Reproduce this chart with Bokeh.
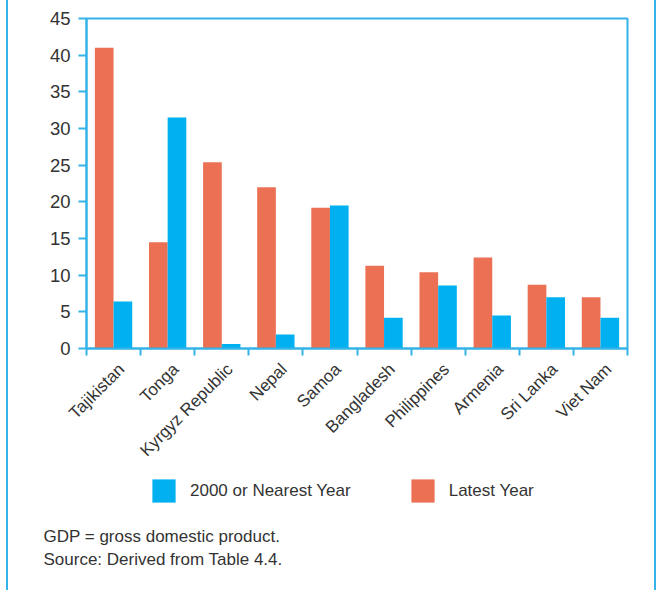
import math
from bokeh.plotting import figure
from bokeh.layouts import column
from bokeh.models import (Range1d, LinearAxis, FixedTicker, ColumnDataSource,
                          Legend, LegendItem, Title)
from bokeh.transform import dodge
from bokeh.embed import file_html
from bokeh.resources import INLINE

# ---- data ----
countries = ["Tajikistan", "Tonga", "Kyrgyz Republic", "Nepal", "Samoa",
             "Bangladesh", "Philippines", "Armenia", "Sri Lanka", "Viet Nam"]
year2000 = [6.4, 31.5, 0.6, 1.9, 19.5, 4.2, 8.6, 4.5, 7.0, 4.2]
latest = [41.0, 14.5, 25.4, 22.0, 19.2, 11.3, 10.4, 12.4, 8.7, 7.0]
y_ticks = [0, 5, 10, 15, 20, 25, 30, 35, 40, 45]
series_labels = ["2000 or Nearest Year", "Latest Year"]
footer_lines = ["GDP = gross domestic product.", "Source: Derived from Table 4.4."]

# ---- styles ----
BLUE = "#00B0F0"
ORANGE = "#EC7054"
AXIS = "#35B2E8"
TEXT = "#333333"
FONT = "Liberation Sans"

n = len(countries)
centers = [i + 0.5 for i in range(n)]
label_pos = [c + 0.15 for c in centers]   # rotated labels sit slightly right of centre
source = ColumnDataSource(dict(x=centers, country=countries, y2000=year2000, latest=latest))

# ---------------- chart ----------------
p = figure(x_range=Range1d(0, n), y_range=Range1d(0, 45),
           width=656, height=470,
           output_backend="svg", toolbar_location=None,
           x_axis_location=None, y_axis_location=None,
           min_border_left=86, min_border_right=29,
           min_border_top=18, min_border_bottom=122)
p.grid.visible = False
p.outline_line_color = AXIS
p.outline_line_width = 2
p.background_fill_color = "white"
p.border_fill_color = None

r_latest = p.vbar(x=dodge("x", -0.1725), top="latest", width=0.345,
                  source=source, fill_color=ORANGE, line_color=None)
r_2000 = p.vbar(x=dodge("x", 0.1725), top="y2000", width=0.345,
                source=source, fill_color=BLUE, line_color=None)

yax = LinearAxis(ticker=FixedTicker(ticks=y_ticks, minor_ticks=[]),
                 axis_line_color=AXIS, axis_line_width=2,
                 major_tick_line_color=AXIS, major_tick_line_width=2,
                 major_tick_in=0, major_tick_out=8,
                 minor_tick_line_color=None,
                 major_label_standoff=8,
                 major_label_text_font=FONT, major_label_text_font_size="18.5px",
                 major_label_text_color=TEXT)
p.add_layout(yax, "left")

xax = LinearAxis(ticker=FixedTicker(ticks=label_pos, minor_ticks=list(range(n + 1))),
                 major_label_overrides={c: name for c, name in zip(label_pos, countries)},
                 axis_line_color=AXIS, axis_line_width=2,
                 major_tick_line_color=None, major_tick_in=0, major_tick_out=7,
                 minor_tick_line_color=AXIS, minor_tick_line_width=2,
                 minor_tick_in=0, minor_tick_out=7,
                 major_label_orientation=math.pi / 4,
                 major_label_standoff=11,
                 major_label_text_font=FONT, major_label_text_font_size="17px",
                 major_label_text_color=TEXT)
p.add_layout(xax, "below")

# ---------------- legend + notes ----------------
foot = figure(x_range=Range1d(0, n), y_range=Range1d(0, 45),
              width=656, height=120, output_backend="svg", toolbar_location=None,
              x_axis_location=None, y_axis_location=None,
              min_border_left=86, min_border_right=29, min_border_top=0,
              min_border_bottom=67)
foot.grid.visible = False
foot.outline_line_color = None
foot.background_fill_color = None
foot.border_fill_color = None

# legend keys only (hidden renderers, shown through the legend)
k_2000 = foot.vbar(x="x", top="y2000", width=0.345, source=source,
                   fill_color=BLUE, line_color=None, visible=False)
k_latest = foot.vbar(x="x", top="latest", width=0.345, source=source,
                     fill_color=ORANGE, line_color=None, visible=False)

legend = Legend(items=[LegendItem(label=series_labels[0], renderers=[k_2000]),
                       LegendItem(label=series_labels[1], renderers=[k_latest])],
                location=(63, 18), margin=0, orientation="horizontal",
                glyph_width=29, glyph_height=29, label_standoff=12, spacing=57,
                padding=0, border_line_color=None, background_fill_alpha=0,
                inactive_fill_alpha=0, click_policy="none",
                label_text_font=FONT, label_text_font_size="17px", label_text_color=TEXT)
foot.add_layout(legend, "center")

for line, so in zip(footer_lines, [3, 0]):
    foot.add_layout(Title(text=line, align="left", offset=-43, standoff=so,
                          text_font=FONT, text_font_size="17px", text_font_style="normal",
                          text_color=TEXT), "below")

layout = column(p, foot, spacing=0)
layout.styles = {"background": "linear-gradient(90deg, transparent 6px, %s 6px, %s 8px, "
                               "transparent 8px, transparent 654px, %s 654px, %s 656px)"
                               % (AXIS, AXIS, AXIS, AXIS)}

open("out.html", "w").write(file_html(layout, INLINE))
